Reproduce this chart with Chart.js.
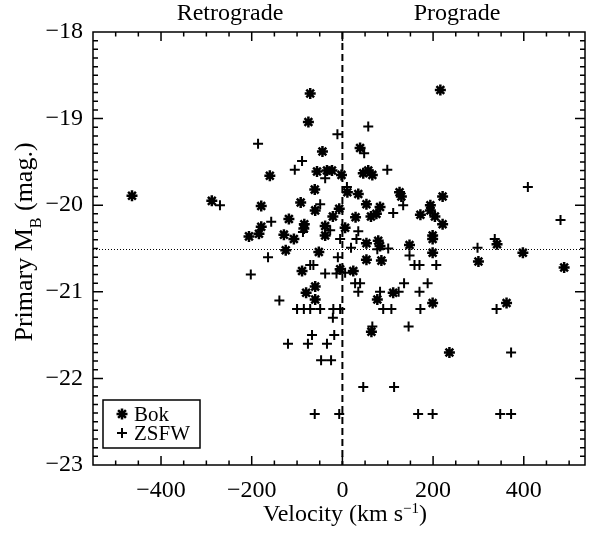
<!DOCTYPE html>
<html>
<head>
<meta charset="utf-8">
<script src="https://cdn.jsdelivr.net/npm/chart.js@4.4.0/dist/chart.umd.min.js"></script>
<style>
  html, body { margin: 0; padding: 0; background: #fff; }
  #wrap { width: 593px; height: 533px; }
</style>
</head>
<body>
<div id="wrap"><canvas id="chart" width="593" height="533"></canvas></div>
<script>
// Bok sample (asterisks): velocity (km/s) and primary absolute magnitude
const bokVelocity = [
  -71, -75, 216, -56, -160, -61, -464, -288, -179, -92,
  -60, -118, -179, -84, -85, -184, -206, -129, -107, -125,
  -52, -89, -44, 39, -34, -23, -2, 46, 57, 66,
  11, 35, 126, 130, 221, -7, 53, 83, -21, 29,
  63, 75, 172, 194, 194, 204, 221, -38, -38, 6,
  199, 199, 53, 79, 83, 148, 341, 398, 300, 199,
  53, 86, -5, 24, -60, -80, -60, 112, 77, 199,
  64, 236, 362, 489
];
const bokMag = [
  -18.71, -19.04, -18.67, -19.61, -19.66, -19.82, -19.89, -19.95, -20.01, -19.97,
  -20.06, -20.16, -20.25, -20.22, -20.27, -20.33, -20.36, -20.34, -20.39, -20.52,
  -20.54, -20.76, -19.38, -19.34, -19.60, -19.60, -19.65, -19.63, -19.60, -19.65,
  -19.85, -19.87, -19.85, -19.90, -19.90, -20.04, -19.99, -20.02, -20.13, -20.14,
  -20.13, -20.10, -20.11, -20.00, -20.06, -20.13, -20.22, -20.24, -20.35, -20.26,
  -20.35, -20.39, -20.44, -20.41, -20.47, -20.46, -20.45, -20.55, -20.65, -20.55,
  -20.63, -20.64, -20.74, -20.76, -20.94, -21.01, -21.09, -21.01, -21.09, -21.13,
  -21.46, -21.70, -21.13, -20.72
];

// ZSFW sample (plus signs)
const zsfwVelocity = [
  -186, -89, -105, -270, -157, -87, -164, -202, -71, -64,
  57, -11, 48, 99, -38, 10, 134, -49, 112, -27,
  35, 31, -5, 77, 101, 19, 298, 336, 409, 148,
  159, 170, 207, -10, -38, -13, 6, 28, 39, 35,
  -100, -85, -71, -49, -20, -5, -21, -67, -76, -34,
  -18, -47, -25, -61, -7, 46, 114, 167, 199, 348,
  372, 83, 124, 90, 108, 172, 66, 146, 136, 188,
  170, 340, 372, 481, -139, -120
];
const zsfwMag = [
  -19.29, -19.49, -19.59, -20.00, -20.19, -20.31, -20.60, -20.80, -20.69, -20.69,
  -19.09, -19.18, -19.40, -19.59, -19.69, -19.79, -20.00, -19.99, -20.09, -20.29,
  -20.30, -20.39, -20.39, -20.51, -20.50, -20.49, -20.49, -20.39, -19.79, -20.58,
  -20.69, -20.69, -20.69, -20.60, -20.79, -20.79, -20.78, -20.90, -20.90, -21.00,
  -21.20, -21.20, -21.20, -21.20, -21.20, -21.20, -21.30, -21.50, -21.60, -21.60,
  -21.50, -21.79, -21.79, -22.41, -22.41, -22.10, -22.10, -22.41, -22.41, -22.41,
  -22.41, -21.00, -21.00, -21.20, -21.20, -21.20, -21.40, -21.40, -20.90, -20.90,
  -21.00, -21.20, -21.70, -20.17, -21.10, -21.60
];

const xTickValues = [-400, -200, 0, 200, 400];
const yTickValues = [-23, -22, -21, -20, -19, -18];
const xRange = [-550, 535];
const yRange = [-23, -18];
const refMag = -20.5;
const refVelocity = 0;

const serif = "'Liberation Serif', 'DejaVu Serif', serif";

function toPoints(xs, ys) {
  return xs.map((x, i) => ({ x: x, y: ys[i] }));
}

function minus(v) {
  return String(v).replace("-", "\u2212");
}

// Reference lines under the markers: dashed v=0, dotted M_B=-20.5
const refLinesPlugin = {
  id: "refLines",
  beforeDatasetsDraw(chart) {
    const { ctx, chartArea: a, scales } = chart;
    ctx.save();
    ctx.strokeStyle = "#000";
    ctx.lineWidth = 1;
    ctx.setLineDash([1, 2]);
    const y = Math.round(scales.y.getPixelForValue(refMag)) + 0.5;
    ctx.beginPath();
    ctx.moveTo(a.left, y);
    ctx.lineTo(a.right, y);
    ctx.stroke();
    ctx.lineWidth = 2;
    ctx.setLineDash([7, 4]);
    const x = scales.x.getPixelForValue(refVelocity);
    ctx.beginPath();
    ctx.moveTo(x, a.top);
    ctx.lineTo(x, a.bottom);
    ctx.stroke();
    ctx.restore();
  },
};

// IDL-style box: frame, inward ticks on all sides, titles, legend
const framePlugin = {
  id: "frame",
  afterDraw(chart) {
    const { ctx, chartArea: a, scales } = chart;
    ctx.save();
    ctx.strokeStyle = "#000";
    ctx.fillStyle = "#000";
    ctx.lineWidth = 1.5;
    ctx.strokeRect(a.left, a.top, a.right - a.left, a.bottom - a.top);

    ctx.beginPath();
    for (let v = -500; v <= 500; v += 50) {
      const px = scales.x.getPixelForValue(v);
      const len = v % 200 === 0 ? 9 : 4.5;
      ctx.moveTo(px, a.bottom);
      ctx.lineTo(px, a.bottom - len);
      ctx.moveTo(px, a.top);
      ctx.lineTo(px, a.top + len);
    }
    for (let i = 1; i < 50; i++) {
      const v = yRange[0] + i * 0.1;
      const py = scales.y.getPixelForValue(v);
      const len = i % 10 === 0 ? 10 : 5;
      ctx.moveTo(a.left, py);
      ctx.lineTo(a.left + len, py);
      ctx.moveTo(a.right, py);
      ctx.lineTo(a.right - len, py);
    }
    ctx.stroke();

    // top labels
    ctx.font = "24px " + serif;
    ctx.textAlign = "center";
    ctx.textBaseline = "alphabetic";
    ctx.fillText("Retrograde", 230, 20);
    ctx.fillText("Prograde", 457, 20);

    // x title with superscript
    const t1 = "Velocity (km s";
    const sup = "\u22121";
    const t2 = ")";
    ctx.font = "24px " + serif;
    const w1 = ctx.measureText(t1).width;
    const w3 = ctx.measureText(t2).width;
    ctx.font = "15px " + serif;
    const w2 = ctx.measureText(sup).width;
    const x0 = 345 - (w1 + w2 + w3) / 2;
    ctx.textAlign = "left";
    ctx.font = "24px " + serif;
    ctx.fillText(t1, x0, 521);
    ctx.font = "15px " + serif;
    ctx.fillText(sup, x0 + w1, 513);
    ctx.font = "24px " + serif;
    ctx.fillText(t2, x0 + w1 + w2, 521);

    // y title with subscript, rotated
    ctx.save();
    ctx.translate(32, 0);
    ctx.rotate(-Math.PI / 2);
    const s1 = "Primary M";
    const sub = "B";
    const s2 = " (mag.)";
    ctx.font = "26px " + serif;
    const v1 = ctx.measureText(s1).width;
    const v3 = ctx.measureText(s2).width;
    ctx.font = "16px " + serif;
    const v2 = ctx.measureText(sub).width;
    const start = -242 - (v1 + v2 + v3) / 2;
    ctx.font = "26px " + serif;
    ctx.fillText(s1, start, 0);
    ctx.font = "16px " + serif;
    ctx.fillText(sub, start + v1, 9);
    ctx.font = "26px " + serif;
    ctx.fillText(s2, start + v1 + v2, 0);
    ctx.restore();

    // legend box
    ctx.fillStyle = "#fff";
    ctx.fillRect(103, 400, 97, 48);
    ctx.lineWidth = 1.5;
    ctx.strokeRect(103, 400, 97, 48);
    ctx.fillStyle = "#000";
    const r = 5.5;
    const d = r * Math.SQRT1_2;
    ctx.lineWidth = 2.5;
    ctx.beginPath();
    ctx.moveTo(122 - r, 414); ctx.lineTo(122 + r, 414);
    ctx.moveTo(122, 414 - r); ctx.lineTo(122, 414 + r);
    ctx.moveTo(122 - d, 414 - d); ctx.lineTo(122 + d, 414 + d);
    ctx.moveTo(122 - d, 414 + d); ctx.lineTo(122 + d, 414 - d);
    ctx.stroke();
    ctx.lineWidth = 2;
    ctx.beginPath();
    ctx.moveTo(122 - 5, 433); ctx.lineTo(122 + 5, 433);
    ctx.moveTo(122, 433 - 5); ctx.lineTo(122, 433 + 5);
    ctx.stroke();
    ctx.font = "21px " + serif;
    ctx.textAlign = "left";
    ctx.fillText("Bok", 134, 421);
    ctx.fillText("ZSFW", 134, 440);
    ctx.restore();
  },
};

new Chart(document.getElementById("chart").getContext("2d"), {
  type: "scatter",
  data: {
    datasets: [
      {
        label: "Bok",
        data: toPoints(bokVelocity, bokMag),
        pointStyle: "star",
        pointRadius: 5.5,
        borderWidth: 2.5,
        borderColor: "#000",
        backgroundColor: "#000",
      },
      {
        label: "ZSFW",
        data: toPoints(zsfwVelocity, zsfwMag),
        pointStyle: "cross",
        pointRadius: 5,
        borderWidth: 2,
        borderColor: "#000",
        backgroundColor: "#000",
      },
    ],
  },
  options: {
    responsive: false,
    animation: false,
    events: [],
    layout: { padding: { left: 0, right: 5, top: 32, bottom: 0 } },
    plugins: {
      legend: { display: false },
      tooltip: { enabled: false },
    },
    scales: {
      x: {
        type: "linear",
        min: xRange[0],
        max: xRange[1],
        afterBuildTicks: (s) => { s.ticks = xTickValues.map((v) => ({ value: v })); },
        afterFit: (s) => { s.height = 68; },
        grid: { display: false, drawTicks: false },
        border: { display: false },
        ticks: {
          color: "#000",
          padding: 11,
          maxRotation: 0,
          autoSkip: false,
          font: { family: serif, size: 24 },
          callback: (v) => minus(v),
        },
      },
      y: {
        type: "linear",
        min: yRange[0],
        max: yRange[1],
        afterBuildTicks: (s) => { s.ticks = yTickValues.map((v) => ({ value: v })); },
        afterFit: (s) => { s.width = 93; },
        grid: { display: false, drawTicks: false },
        border: { display: false },
        ticks: {
          color: "#000",
          padding: 10,
          autoSkip: false,
          font: { family: serif, size: 24 },
          callback: (v) => minus(v),
        },
      },
    },
  },
  plugins: [refLinesPlugin, framePlugin],
});
</script>
</body>
</html>
